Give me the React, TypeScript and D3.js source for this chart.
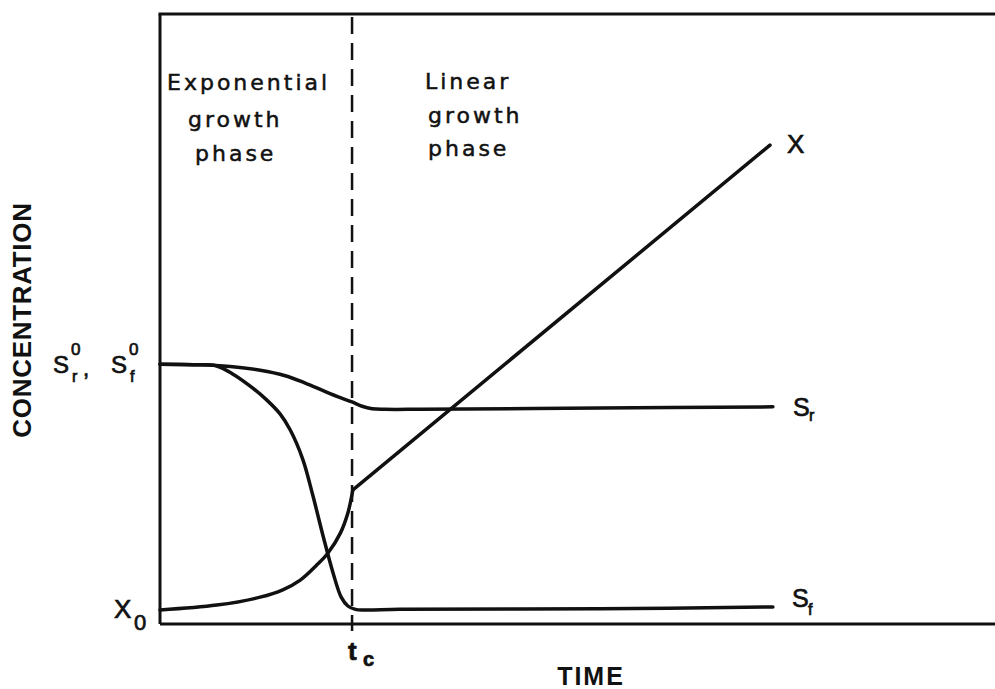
import React from 'react';
import * as d3 from 'd3';

// time / concentration (arbitrary units, 0-100 on both axes)
const timeSr = [0, 4.8, 8.4, 12.0, 15.0, 17.4, 19.8, 21.6, 23.0, 24.2, 25.4, 26.9, 31.1, 52.7, 73.4];
const concSr = [42.6, 42.5, 42.2, 41.6, 40.7, 39.5, 38.1, 37.1, 36.4, 35.7, 35.3, 35.2, 35.2, 35.4, 35.6];

const timeSf = [0, 4.8, 6.8, 8.7, 10.8, 12.8, 14.4, 15.6, 17.1, 18.3, 19.5, 20.7, 21.7, 22.5, 23.4, 24.6, 28.7, 52.7, 73.4];
const concSf = [42.6, 42.5, 42.3, 41.0, 39.0, 36.7, 34.4, 31.8, 27.0, 21.1, 14.6, 8.5, 4.4, 2.95, 2.4, 2.3, 2.4, 2.5, 2.8];

const timeXExp = [0, 6.8, 12.0, 14.7, 16.8, 18.8, 20.1, 21.6, 22.5, 23.1];
const concXExp = [2.3, 3.1, 4.4, 5.6, 7.2, 9.7, 11.6, 14.9, 18.2, 22.0];

const timeXLin = [23.1, 73.05];
const concXLin = [22.0, 78.5];

const tc = 23.0;
const S0 = 42.6;
const X0 = 2.3;

const leftPhase = ['Exponential', 'growth', 'phase'];
const rightPhase = ['Linear', 'growth', 'phase'];

const W = 995;
const H = 689;
const margin = { top: 14, right: 0, bottom: 65, left: 160 };

const zip = (ts: number[], cs: number[]) => ts.map((t, i) => [t, cs[i]] as [number, number]);

const App = () => {
  const x = d3.scaleLinear().domain([0, 100]).range([margin.left, W - margin.right]);
  const y = d3.scaleLinear().domain([0, 100]).range([H - margin.bottom, margin.top]);

  const smooth = d3.line<[number, number]>()
    .x(d => x(d[0]))
    .y(d => y(d[1]))
    .curve(d3.curveCatmullRom.alpha(0.5));
  const straight = d3.line<[number, number]>()
    .x(d => x(d[0]))
    .y(d => y(d[1]));

  const y0 = y(0);
  const yTop = y(100);
  const ink = '#111';
  const phaseFont = {
    fontFamily: '"DejaVu Sans", sans-serif', fontSize: 22, letterSpacing: 3,
    fill: ink, stroke: ink, strokeWidth: 0.5,
  };
  const symFont = {
    fontFamily: '"Liberation Sans", Arial, sans-serif', fill: ink, stroke: ink, strokeWidth: 0.7,
  };
  const titleFont = { fontFamily: '"Liberation Sans", Arial, sans-serif', fontWeight: 700, fontSize: 26, fill: ink };

  const endSr = [timeSr[timeSr.length - 1], concSr[concSr.length - 1]];
  const endSf = [timeSf[timeSf.length - 1], concSf[concSf.length - 1]];
  const endX = [timeXLin[1], concXLin[1]];

  return (
    <svg width={W} height={H} style={{ position: 'absolute', left: 0, top: 0, background: '#fff' }}>
      {/* frame: left axis, bottom axis, top border */}
      <g stroke={ink} strokeWidth={3} fill="none">
        <line x1={x(0)} x2={x(0)} y1={yTop} y2={y0} />
        <line x1={x(0)} x2={x(100)} y1={y0} y2={y0} />
        <line x1={x(0) - 1.5} x2={x(100)} y1={yTop} y2={yTop} />
      </g>

      {/* t_c divider */}
      <line x1={x(tc)} x2={x(tc)} y1={yTop + 3} y2={y0 + 7}
        stroke={ink} strokeWidth={2.5} strokeDasharray="17 9" />

      {/* curves */}
      <g stroke={ink} strokeWidth={3.5} fill="none" strokeLinecap="round">
        <path d={smooth(zip(timeSr, concSr)) || ''} />
        <path d={smooth(zip(timeSf, concSf)) || ''} />
        <path d={smooth(zip(timeXExp, concXExp)) || ''} />
        <path d={straight(zip(timeXLin, concXLin)) || ''} />
      </g>

      {/* phase labels */}
      {leftPhase.map((s, i) => (
        <text key={'l' + i} x={[167, 188, 195][i]} y={[90, 127, 161][i]} style={phaseFont}>{s}</text>
      ))}
      {rightPhase.map((s, i) => (
        <text key={'r' + i} x={[425, 428, 428][i]} y={[89, 123, 156][i]} style={phaseFont}>{s}</text>
      ))}

      {/* curve end labels */}
      <text x={x(endX[0]) + 17} y={y(endX[1]) + 8} style={{ ...symFont, fontSize: 26 }}>X</text>
      <text x={x(endSr[0]) + 20} y={y(endSr[1]) + 9} style={{ ...symFont, fontSize: 25 }}>S</text>
      <text x={x(endSr[0]) + 36} y={y(endSr[1]) + 14} style={{ ...symFont, fontSize: 16 }}>r</text>
      <text x={x(endSf[0]) + 19} y={y(endSf[1])} style={{ ...symFont, fontSize: 25 }}>S</text>
      <text x={x(endSf[0]) + 35} y={y(endSf[1]) + 8} style={{ ...symFont, fontSize: 16 }}>f</text>

      {/* y-axis value labels */}
      <text x={53} y={y(S0) + 9} style={{ ...symFont, fontSize: 24 }}>S</text>
      <text x={71} y={y(S0) - 9} style={{ ...symFont, fontSize: 17 }}>0</text>
      <text x={72} y={y(S0) + 18} style={{ ...symFont, fontSize: 16 }}>r</text>
      <text x={83} y={y(S0) + 12} style={{ ...symFont, fontSize: 22 }}>,</text>
      <text x={111} y={y(S0) + 9} style={{ ...symFont, fontSize: 24 }}>S</text>
      <text x={129} y={y(S0) - 9} style={{ ...symFont, fontSize: 17 }}>0</text>
      <text x={130} y={y(S0) + 18} style={{ ...symFont, fontSize: 16 }}>f</text>

      <text x={114} y={y(X0) + 8} style={{ ...symFont, fontSize: 26 }}>X</text>
      <text x={134} y={y(X0) + 20} style={{ ...symFont, fontSize: 22 }}>0</text>

      {/* x-axis value label */}
      <text x={x(tc) - 4} y={y0 + 36} style={{ ...symFont, fontSize: 26, fontWeight: 700 }}>t</text>
      <text x={x(tc) + 11} y={y0 + 42} style={{ ...symFont, fontSize: 20, fontWeight: 700 }}>c</text>

      {/* axis titles */}
      <text x={591} y={H - 4} textAnchor="middle" style={{ ...titleFont, fontSize: 25, letterSpacing: 2 }}>TIME</text>
      <text transform={`translate(31, 320) rotate(-90)`} textAnchor="middle"
        style={{ ...titleFont, letterSpacing: 0.7 }}>CONCENTRATION</text>
    </svg>
  );
};

export default App;
